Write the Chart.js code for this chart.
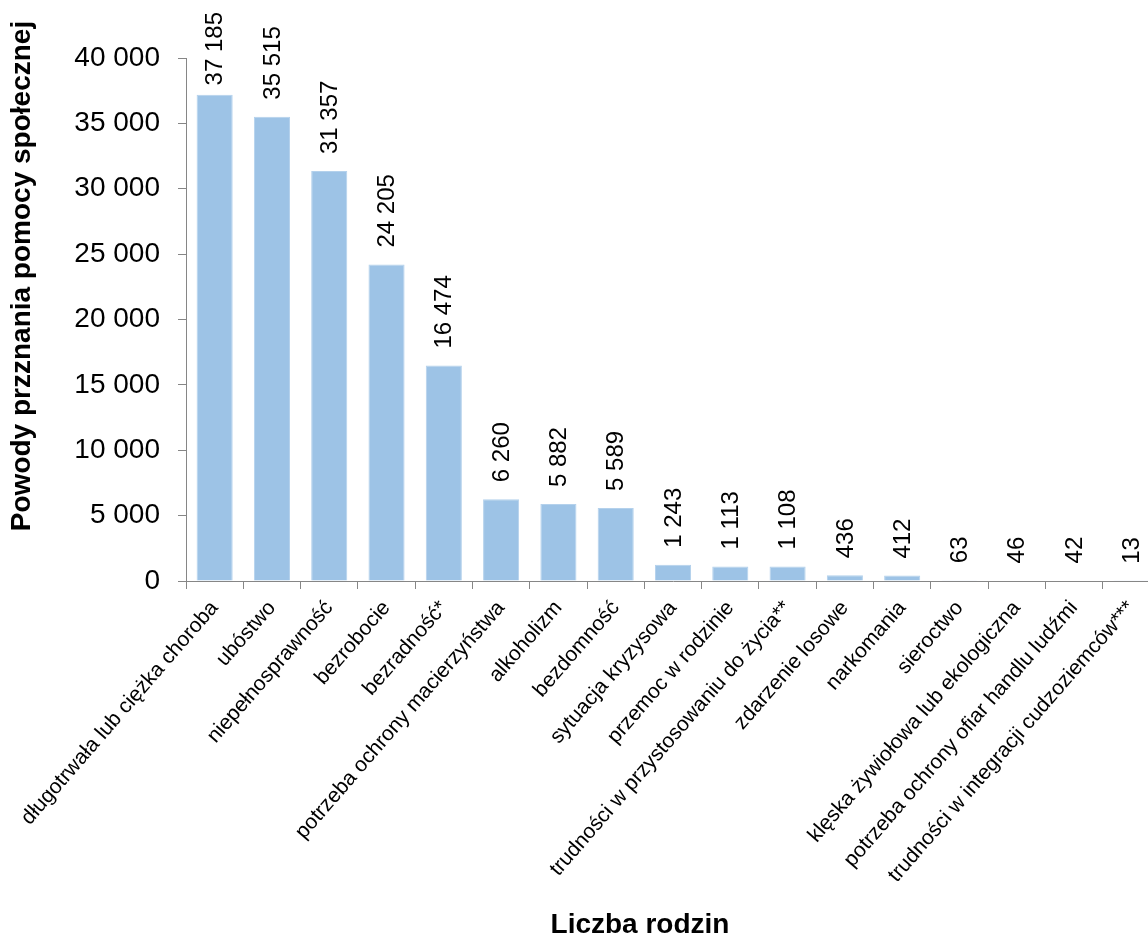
<!DOCTYPE html>
<html>
<head>
<meta charset="utf-8">
<script src="https://cdn.jsdelivr.net/npm/chart.js@4"></script>
<style>
  html, body { margin: 0; padding: 0; overflow: hidden; background: #fff; }
  #wrap { width: 1170px; height: 936px; position: relative; }
</style>
</head>
<body>
<div id="wrap"><canvas id="chart"></canvas></div>
<script>
const categories = [
  'długotrwała lub ciężka choroba',
  'ubóstwo',
  'niepełnosprawność',
  'bezrobocie',
  'bezradność*',
  'potrzeba ochrony macierzyństwa',
  'alkoholizm',
  'bezdomność',
  'sytuacja kryzysowa',
  'przemoc w rodzinie',
  'trudności w przystosowaniu do życia**',
  'zdarzenie losowe',
  'narkomania',
  'sieroctwo',
  'klęska żywiołowa lub ekologiczna',
  'potrzeba ochrony ofiar handlu ludźmi',
  'trudności w integracji cudzoziemców***'
];
const families = [37185, 35515, 31357, 24205, 16474, 6260, 5882, 5589, 1243, 1113, 1108, 436, 412, 63, 46, 42, 13];
const yTicks = [0, 5000, 10000, 15000, 20000, 25000, 30000, 35000, 40000];
const yTitle = 'Powody przznania pomocy społecznej';
const xTitle = 'Liczba rodzin';

const FONT = '"Liberation Sans", Arial, sans-serif';
const AXIS = '#868686';

// 37185 -> "37 185"
const fmt = v => String(v).replace(/\B(?=(\d{3})+(?!\d))/g, ' ');

// value labels standing vertically above each bar
const valueLabels = {
  id: 'valueLabels',
  afterDatasetsDraw(chart) {
    const ctx = chart.ctx;
    const meta = chart.getDatasetMeta(0);
    ctx.save();
    ctx.font = '24px ' + FONT;
    ctx.fillStyle = '#000';
    ctx.textAlign = 'left';
    ctx.textBaseline = 'middle';
    meta.data.forEach((bar, i) => {
      const text = fmt(families[i]);
      const w = ctx.measureText(text).width;
      const yEnd = Math.max(bar.y - 17, 12 + w);
      ctx.save();
      ctx.translate(bar.x + 1, yEnd);
      ctx.rotate(-Math.PI / 2);
      ctx.fillText(text, 0, 0);
      ctx.restore();
    });
    ctx.restore();
  }
};

// axis titles placed like in the original sheet
const axisTitles = {
  id: 'axisTitles',
  afterDraw(chart) {
    const ctx = chart.ctx;
    ctx.save();
    ctx.font = 'bold 28px ' + FONT;
    ctx.fillStyle = '#000';
    ctx.textAlign = 'center';
    ctx.textBaseline = 'middle';
    ctx.translate(22, 276);
    ctx.rotate(-Math.PI / 2);
    ctx.fillText(yTitle, 0, 0);
    ctx.restore();

    ctx.save();
    ctx.font = 'bold 28px ' + FONT;
    ctx.fillStyle = '#000';
    ctx.textAlign = 'center';
    ctx.textBaseline = 'alphabetic';
    ctx.fillText(xTitle, 640, 933);
    ctx.restore();
  }
};

new Chart(document.getElementById('chart'), {
  type: 'bar',
  data: {
    labels: categories,
    datasets: [{
      data: families,
      backgroundColor: '#9dc3e6',
      borderColor: '#b4d1ec',
      borderWidth: 1,
      barPercentage: 0.63,
      categoryPercentage: 1
    }]
  },
  options: {
    responsive: true,
    maintainAspectRatio: false,
    devicePixelRatio: 1,
    animation: false,
    layout: { padding: { top: 58, right: 10, bottom: 0, left: 0 } },
    plugins: {
      legend: { display: false },
      tooltip: { enabled: false }
    },
    scales: {
      x: {
        grid: { display: true, drawOnChartArea: false, drawTicks: true, tickLength: 8, color: AXIS },
        border: { display: true, color: AXIS },
        ticks: {
          autoSkip: false,
          minRotation: 49,
          maxRotation: 49,
          padding: 7,
          color: '#000',
          font: { family: FONT, size: 21 }
        },
        afterFit(scale) { scale.height = 355; }
      },
      y: {
        min: 0,
        max: 40000,
        grid: { display: true, drawOnChartArea: false, drawTicks: true, tickLength: 8, color: AXIS },
        border: { display: true, color: AXIS },
        afterBuildTicks(scale) { scale.ticks = yTicks.map(v => ({ value: v })); },
        ticks: {
          padding: 18,
          color: '#000',
          font: { family: FONT, size: 28 },
          callback: v => fmt(v)
        },
        afterFit(scale) { scale.width = 186; }
      }
    }
  },
  plugins: [valueLabels, axisTitles]
});
</script>
</body>
</html>
